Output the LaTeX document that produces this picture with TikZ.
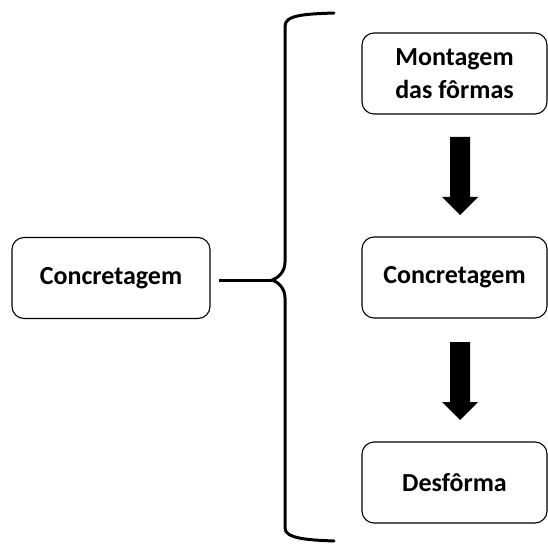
\documentclass[tikz,border=0pt]{standalone}
\usepackage{fontspec}
\setmainfont{Carlito}
\usetikzlibrary{arrows.meta}
\begin{document}
\begin{tikzpicture}[x=1pt,y=-1pt,
  box/.style={draw=black,line width=1.1pt,rounded corners=12pt,fill=white,
    minimum width=185pt,minimum height=81pt,align=center,
    font=\fontsize{26}{33}\selectfont\bfseries,inner sep=0pt},
  leftbox/.style={box,minimum width=198pt},
  brace/.style={line width=3pt,line cap=round,line join=round},
  bigarrow/.style={fill=black,draw=none}]
\useasboundingbox (0,0) rectangle (548,545);
\node[leftbox] (L) at (111,278) {Concretagem};
\node[box] (A) at (454.5,73.5) {Montagem\\das fôrmas};
\node[box] (B) at (454.5,277.5) {Concretagem};
\node[box] (C) at (454.5,482.5) {Desfôrma};
\coordinate (tip) at (272,280);
\coordinate (btop) at (334,13);
\coordinate (bbot) at (334,541);
% brace
\draw[brace] (btop) .. controls (305,14) and (285,15) .. (285,26)
  -- (285,262) .. controls (285,272) and (278,278) .. (tip)
  .. controls (278,282) and (285,288) .. (285,298)
  -- (285,528) .. controls (285,538) and (305,540) .. (bbot);
\draw[line width=3pt] (L.east) ++(8,2) -- (tip);
% arrows
\fill[bigarrow] (450,137) -- (470,137) -- (470,197) -- (478,197) -- (460,215) -- (442,197) -- (450,197) -- cycle;
\fill[bigarrow] (450,342) -- (470,342) -- (470,402) -- (478,402) -- (460,420) -- (442,402) -- (450,402) -- cycle;
\end{tikzpicture}
\end{document}
